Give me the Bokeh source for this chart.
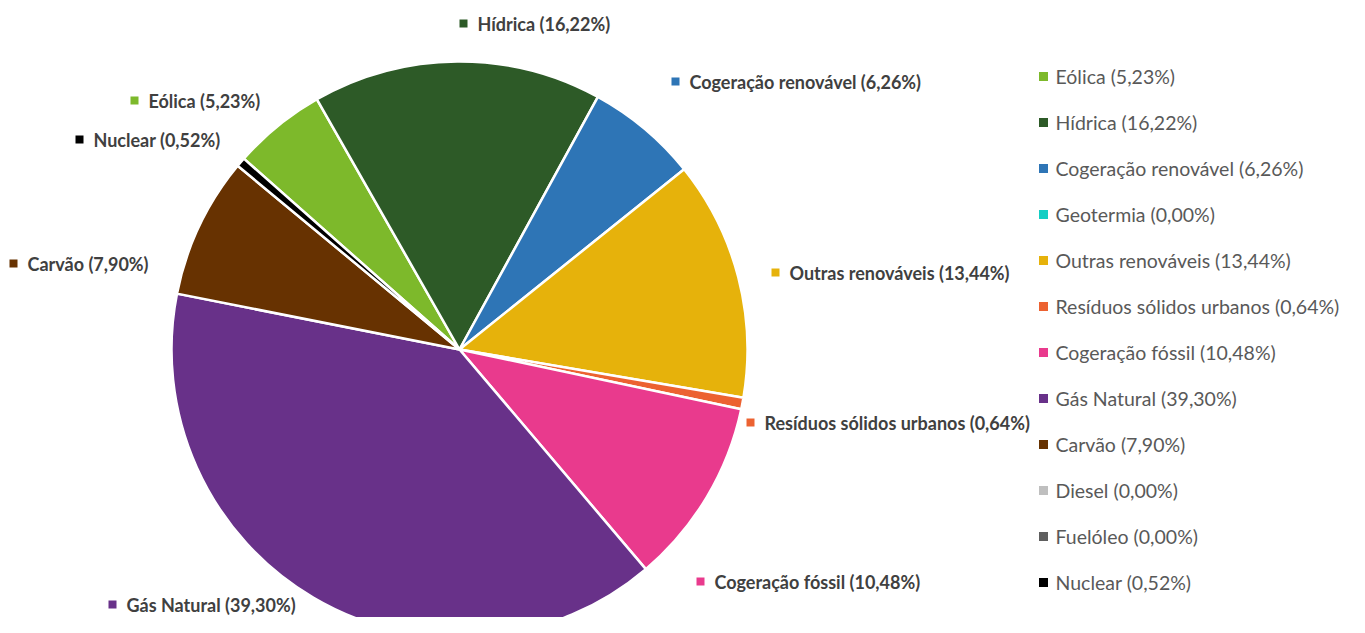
import numpy as np
from bokeh.plotting import figure
from bokeh.models import Range1d, ColumnDataSource
from bokeh.core.properties import value
from bokeh.embed import file_html
from bokeh.resources import INLINE

categories = ["Eólica", "Hídrica", "Cogeração renovável", "Geotermia", "Outras renováveis",
              "Resíduos sólidos urbanos", "Cogeração fóssil", "Gás Natural", "Carvão",
              "Diesel", "Fuelóleo", "Nuclear"]
shares = [5.23, 16.22, 6.26, 0.00, 13.44, 0.64, 10.48, 39.30, 7.90, 0.00, 0.00, 0.52]
colors = ["#7DB92B", "#2D5A27", "#2E75B6", "#14CEC4", "#E6B20B", "#EC6231", "#E93A8D",
          "#683189", "#673201", "#BFBFBF", "#5F5F5F", "#000000"]

# layout (reference pixel space, y downwards)
W, H = 1349, 617
OFF = 0
CX, CY, R = 459, 349, 288
START_FROM_TOP = -48.5  # degrees, clockwise from 12 o'clock
label_pos = {"Eólica": (134, 100), "Hídrica": (463, 23), "Cogeração renovável": (675, 81),
             "Outras renováveis": (775, 272), "Resíduos sólidos urbanos": (750, 422),
             "Cogeração fóssil": (700, 581), "Gás Natural": (112, 604), "Carvão": (13, 263),
             "Nuclear": (79, 139)}
LEG_X, LEG_Y0, LEG_DY = 1043, 76, 46

def px(x):
    return x - OFF

def py(y):
    return H - (y - OFF)

def fmt(v):
    return f"{v:.2f}".replace(".", ",") + "%"

p = figure(width=W, height=H, output_backend="svg", toolbar_location=None,
           x_range=Range1d(0, W), y_range=Range1d(0, H), min_border=0,
           outline_line_color=None)
p.axis.visible = False
p.grid.visible = False
p.background_fill_color = "white"

frac = np.array(shares) / sum(shares)
cum = np.concatenate([[0], np.cumsum(frac)])
base = 90 - START_FROM_TOP  # bokeh angle (ccw from +x)
starts = np.radians(base - cum[:-1] * 360)
ends = np.radians(base - cum[1:] * 360)
mask = np.array(shares) > 0
src = ColumnDataSource(dict(start=starts[mask], end=ends[mask],
                            color=[c for c, m in zip(colors, mask) if m]))
p.wedge(x=px(CX), y=py(CY), radius=R, start_angle="start", end_angle="end",
        direction="clock", fill_color="color", line_color="white", line_width=2.5,
        source=src)

# data labels
lx, ly, lt, lc = [], [], [], []
for cat, v, c in zip(categories, shares, colors):
    if cat in label_pos:
        mx, my = label_pos[cat]
        lx.append(px(mx)); ly.append(py(my)); lt.append(f"{cat} ({fmt(v)})"); lc.append(c)
p.scatter(x=lx, y=ly, marker="square", size=8, fill_color=lc, line_color=None)
p.text(x=[x + 14 for x in lx], y=ly, text=lt, text_font=value("Lato"),
       text_font_style="bold", text_font_size="18px", text_color="#404040",
       text_baseline="middle", text_align="left")

# legend
gx = [px(LEG_X)] * len(categories)
gy = [py(LEG_Y0 + i * LEG_DY) for i in range(len(categories))]
p.scatter(x=gx, y=gy, marker="square", size=9, fill_color=colors, line_color=None)
p.text(x=[x + 12 for x in gx], y=gy, text=[f"{c} ({fmt(v)})" for c, v in zip(categories, shares)],
       text_font=value("Lato"), text_font_size="19.5px", text_color="#595959",
       text_baseline="middle", text_align="left")

open("out.html", "w").write(file_html(p, INLINE))
